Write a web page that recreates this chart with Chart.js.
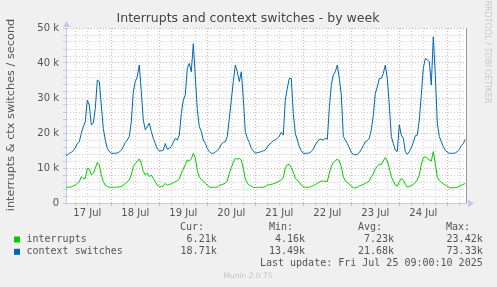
<!DOCTYPE html>
<html>
<head>
<meta charset="utf-8">
<title>Interrupts and context switches - by week</title>
<script src="https://cdn.jsdelivr.net/npm/chart.js@4/dist/chart.umd.min.js"></script>
<style>
  html, body { margin: 0; padding: 0; background: #f0f0f0; }
  #wrap { width: 497px; height: 287px; position: relative; }
</style>
</head>
<body>
<div id="wrap"><canvas id="irqChart" width="497" height="287"></canvas></div>
<script>
// DATA
// ====
// one sample per hour, hour 1 = 17 Jul 01:00 (values in thousands / second)
const FIRST_HOUR = 1;
const dayLabels = ['17 Jul', '18 Jul', '19 Jul', '20 Jul', '21 Jul', '22 Jul', '23 Jul', '24 Jul'];
const yTickLabels = ['0', '10 k', '20 k', '30 k', '40 k', '50 k'];

const interrupts = [
  4.5, 4.5, 4.5, 4.6, 4.9, 5.1, 5.6, 6.1, 7.5, 7.0, 7.0, 9.9, 9.7, 8.0, 8.5, 9.9, 11.6, 10.9, 8.0, 6.1,
  5.1, 4.7, 4.5, 4.5, 4.5, 4.5, 4.5, 4.6, 4.7, 5.1, 5.6, 6.1, 6.6, 8.0, 10.4, 11.3, 11.8, 12.6, 11.3, 9.0,
  8.0, 8.5, 7.5, 8.0, 7.0, 6.1, 5.1, 4.7, 4.7, 4.9, 5.6, 5.1, 5.3, 5.5, 5.8, 6.1, 6.3, 6.9, 8.5, 9.7,
  10.9, 12.3, 12.0, 12.6, 14.2, 12.8, 9.4, 7.3, 6.8, 6.3, 5.6, 5.1, 4.6, 4.4, 4.5, 4.5, 4.5, 5.0, 5.2, 5.4,
  5.7, 6.3, 8.5, 10.1, 11.6, 12.8, 12.5, 12.8, 12.3, 9.9, 6.9, 5.7, 5.1, 4.8, 4.5, 4.4, 4.5, 4.5, 4.5, 4.5,
  4.7, 5.1, 5.2, 5.3, 5.5, 5.7, 5.9, 6.3, 6.6, 7.2, 10.1, 11.0, 11.0, 10.1, 8.8, 7.0, 6.6, 5.9, 5.1, 4.6,
  4.5, 4.5, 4.5, 4.7, 5.0, 5.3, 5.6, 6.0, 6.2, 6.3, 6.2, 6.1, 8.5, 10.4, 11.6, 12.0, 12.6, 12.0, 10.4, 7.5,
  6.3, 5.9, 5.3, 4.8, 4.4, 4.3, 4.5, 4.9, 5.1, 5.3, 5.6, 5.9, 6.3, 7.5, 8.3, 9.9, 10.4, 11.1, 11.0, 12.0,
  13.0, 12.0, 10.1, 7.5, 6.3, 5.1, 4.8, 6.1, 7.0, 6.6, 5.3, 4.5, 4.7, 5.0, 5.3, 5.9, 6.6, 8.0, 11.0, 13.0,
  13.2, 12.8, 12.3, 12.0, 14.7, 11.3, 7.5, 6.4, 5.9, 5.5, 5.1, 4.8, 4.4, 4.3, 4.4, 4.4, 4.5, 4.8, 5.1, 5.3,
  5.6
];

const contextSwitches = [
  13.7, 13.7, 14.2, 14.5, 14.9, 15.8, 17.0, 17.5, 19.9, 21.8, 23.2, 29.4, 28.0, 22.3, 22.8, 27.0, 35.1, 34.7, 28.0, 21.3,
  18.0, 15.6, 14.7, 14.2, 14.2, 14.2, 14.3, 14.6, 15.1, 16.1, 17.3, 18.0, 19.0, 23.2, 31.8, 34.7, 36.1, 39.4, 31.8, 23.7,
  20.9, 21.8, 22.8, 20.4, 18.5, 17.0, 15.4, 14.9, 14.9, 15.1, 17.0, 15.4, 15.6, 16.1, 17.3, 18.5, 18.0, 19.4, 25.6, 29.4,
  30.9, 38.5, 39.9, 37.5, 45.5, 36.0, 26.6, 21.8, 20.4, 18.0, 17.0, 15.6, 14.7, 14.2, 14.2, 14.5, 15.1, 15.6, 16.8, 17.3,
  17.5, 19.0, 24.2, 29.4, 34.7, 39.4, 37.5, 34.7, 37.5, 29.9, 20.4, 18.5, 17.3, 15.6, 14.9, 14.2, 14.4, 14.5, 14.7, 14.9,
  15.1, 16.0, 16.8, 17.2, 17.8, 18.0, 18.5, 19.1, 20.2, 19.4, 29.4, 32.8, 35.6, 35.6, 25.6, 19.9, 18.0, 16.1, 14.9, 14.2,
  14.2, 14.2, 14.3, 14.7, 15.4, 16.6, 17.5, 18.2, 18.2, 18.0, 18.5, 18.2, 27.0, 33.7, 36.6, 37.5, 39.4, 35.6, 30.9, 19.0,
  18.0, 17.0, 15.8, 14.4, 14.0, 13.7, 13.9, 14.4, 15.3, 16.4, 17.5, 17.8, 18.5, 20.9, 25.1, 31.3, 33.2, 35.6, 35.6, 37.0,
  39.4, 35.6, 28.0, 19.0, 17.0, 15.1, 14.7, 22.3, 19.4, 18.5, 14.7, 13.9, 14.7, 15.8, 17.3, 19.2, 19.4, 23.7, 30.9, 38.5,
  41.3, 40.9, 40.4, 33.7, 47.5, 36.6, 22.8, 19.0, 17.5, 16.1, 15.1, 14.5, 14.2, 14.2, 14.2, 14.3, 14.7, 15.3, 16.4, 17.0,
  18.2
];

const legendRows = [
  { name: 'interrupts', color: '#00cc00', cur: '6.21k', min: '4.16k', avg: '7.23k', max: '23.42k' },
  { name: 'context switches', color: '#0066b3', cur: '18.71k', min: '13.49k', avg: '21.68k', max: '73.33k' },
];

// COLOURS
// =======
const MAJOR_GRID = '#e6a8a8';
const MINOR_GRID = '#d0d0d0';
const AXIS_COLOR = '#c8c8ee';
const TEXT_COLOR = '#555555';

function toPoints(values) {
  return values.map((v, i) => ({ x: FIRST_HOUR + i, y: v }));
}

// extra drawing: backgrounds, arrows, titles and the munin legend block
const muninDecor = {
  id: 'muninDecor',
  beforeDraw(chart) {
    const { ctx, chartArea: a } = chart;
    ctx.save();
    ctx.fillStyle = '#ffffff';
    ctx.fillRect(a.left, a.top, a.right - a.left, a.bottom - a.top);
    ctx.restore();
  },
  afterDatasetsDraw(chart) {
    const { ctx, chartArea: a } = chart;
    ctx.save();
    // right edge rule
    ctx.strokeStyle = '#999999';
    ctx.lineWidth = 1;
    ctx.beginPath();
    ctx.moveTo(a.right + 0.5, a.top);
    ctx.lineTo(a.right + 0.5, a.bottom);
    ctx.stroke();
    // axis arrows
    ctx.fillStyle = AXIS_COLOR;
    ctx.beginPath();
    ctx.moveTo(a.left - 3, a.top - 1);
    ctx.lineTo(a.left + 0.5, a.top - 7);
    ctx.lineTo(a.left + 4, a.top - 1);
    ctx.fill();
    ctx.beginPath();
    ctx.moveTo(a.right + 2, a.bottom - 3.5);
    ctx.lineTo(a.right + 8, a.bottom + 0.5);
    ctx.lineTo(a.right + 2, a.bottom + 4.5);
    ctx.fill();
    ctx.restore();
  },
  afterDraw(chart) {
    const { ctx } = chart;
    ctx.save();
    ctx.textBaseline = 'middle';

    // title
    ctx.fillStyle = '#444444';
    ctx.font = '12.5px "DejaVu Sans"';
    ctx.textAlign = 'center';
    ctx.fillText('Interrupts and context switches - by week', 248, 19);

    // vertical axis label
    ctx.save();
    ctx.translate(11, 115);
    ctx.rotate(-Math.PI / 2);
    ctx.font = '11.3px "DejaVu Sans"';
    ctx.fillStyle = TEXT_COLOR;
    ctx.fillText('interrupts & ctx switches / second', 0, 0);
    ctx.restore();

    // rrdtool credit
    ctx.save();
    ctx.translate(487, 52);
    ctx.rotate(Math.PI / 2);
    ctx.font = '8px "DejaVu Sans"';
    ctx.fillStyle = '#c8c8c8';
    ctx.fillText('RRDTOOL / TOBI OETIKER', 0, 0);
    ctx.restore();

    // legend block
    ctx.font = '10px "DejaVu Sans Mono"';
    ctx.fillStyle = TEXT_COLOR;
    ctx.textAlign = 'right';
    const colsHead = [204, 293, 382, 470];
    const colsVal = [216.7, 305, 394, 482.7];
    ['Cur:', 'Min:', 'Avg:', 'Max:'].forEach((h, i) => ctx.fillText(h, colsHead[i], 227));

    legendRows.forEach((row, r) => {
      const y = 239.5 + r * 12.3;
      ctx.fillStyle = row.color;
      ctx.fillRect(14, y - 3, 6, 6);
      ctx.fillStyle = TEXT_COLOR;
      ctx.textAlign = 'left';
      ctx.fillText(row.name, 26.5, y);
      ctx.textAlign = 'right';
      [row.cur, row.min, row.avg, row.max].forEach((v, i) => ctx.fillText(v, colsVal[i], y));
    });
    ctx.fillText('Last update: Fri Jul 25 09:00:10 2025', 482.7, 263.5);

    // munin version
    ctx.textAlign = 'center';
    ctx.font = '7.5px "DejaVu Sans"';
    ctx.fillStyle = '#c4c4c4';
    ctx.fillText('Munin 2.0.75', 248, 276);
    ctx.restore();
  },
};

// BUILD CHART
// ===========
const chartCtx = document.getElementById('irqChart').getContext('2d');

new Chart(chartCtx, {
  type: 'line',
  data: {
    datasets: [
      {
        label: 'context switches',
        data: toPoints(contextSwitches),
        borderColor: '#0066b3',
        borderWidth: 1,
        pointRadius: 0,
        tension: 0,
      },
      {
        label: 'interrupts',
        data: toPoints(interrupts),
        borderColor: '#00cc00',
        borderWidth: 1,
        pointRadius: 0,
        tension: 0,
      },
    ],
  },
  options: {
    responsive: false,
    animation: false,
    events: [],
    layout: {
      padding: { left: 0, top: 28, right: 31, bottom: 0 },
    },
    plugins: {
      legend: { display: false },
      title: { display: false },
      tooltip: { enabled: false },
    },
    scales: {
      x: {
        type: 'linear',
        min: 1.35,
        max: 201.35,
        afterBuildTicks: (scale) => {
          const ticks = [];
          for (let h = 6; h <= 200; h += 6) ticks.push({ value: h });
          scale.ticks = ticks;
        },
        afterFit: (scale) => { scale.height = 84; },
        grid: {
          color: (c) => (c.tick && c.tick.value % 24 === 0 ? MAJOR_GRID : MINOR_GRID),
          tickColor: (c) => (c.tick && c.tick.value % 24 === 0 ? MAJOR_GRID : MINOR_GRID),
          tickLength: 3,
          lineWidth: 1,
        },
        border: { color: AXIS_COLOR, dash: [1, 2] },
        ticks: {
          autoSkip: false,
          maxRotation: 0,
          padding: 1,
          color: TEXT_COLOR,
          font: { family: 'DejaVu Sans', size: 10 },
          callback: (v) => (v % 24 === 12 ? dayLabels[(v - 12) / 24] : ''),
        },
      },
      y: {
        min: 0,
        max: 50,
        afterFit: (scale) => { scale.width = 66; },
        grid: {
          color: (c) => (c.tick && c.tick.value % 10 === 0 ? MAJOR_GRID : MINOR_GRID),
          tickColor: AXIS_COLOR,
          tickLength: 3,
          lineWidth: 1,
        },
        border: { color: AXIS_COLOR, dash: [1, 2] },
        ticks: {
          stepSize: 2,
          autoSkip: false,
          padding: 4,
          color: TEXT_COLOR,
          font: { family: 'DejaVu Sans', size: 10 },
          callback: (v) => (v % 10 === 0 ? yTickLabels[v / 10] : ''),
        },
      },
    },
  },
  plugins: [muninDecor],
});
</script>
</body>
</html>
